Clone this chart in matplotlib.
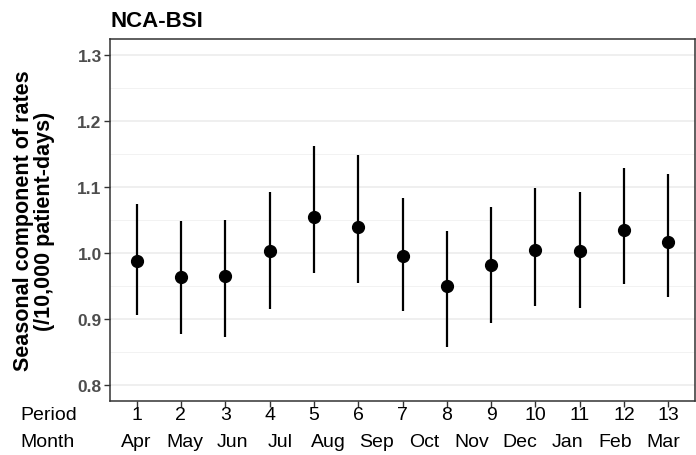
import numpy as np
import matplotlib.pyplot as plt
from matplotlib import transforms

plt.rcParams['font.family'] = ['Liberation Sans', 'DejaVu Sans']

# seasonal component per period, with interval bounds
periods = list(range(1, 14))
est = [0.987, 0.963, 0.965, 1.003, 1.054, 1.039, 0.995,
       0.949, 0.981, 1.005, 1.003, 1.035, 1.017]
lower = [0.905, 0.877, 0.872, 0.915, 0.970, 0.955, 0.911,
         0.857, 0.893, 0.919, 0.917, 0.953, 0.933]
upper = [1.075, 1.048, 1.050, 1.093, 1.162, 1.148, 1.084,
         1.033, 1.070, 1.098, 1.093, 1.129, 1.120]
months = ['Apr', 'May', 'Jun', 'Jul', 'Aug', 'Sep', 'Oct',
          'Nov', 'Dec', 'Jan', 'Feb', 'Mar']
yticks = [0.8, 0.9, 1.0, 1.1, 1.2, 1.3]

fig = plt.figure(figsize=(6.96, 4.56), dpi=100)
ax = fig.add_axes([110 / 696, 1 - 402 / 456, 585 / 696, 362 / 456])

ax.vlines(periods, lower, upper, color='black', linewidth=1.6, zorder=3)
ax.plot(periods, est, 'o', color='black', markersize=8.5, zorder=4)

ax.set_xlim(0.4, 13.6)
ax.set_ylim(0.775, 1.325)
ax.set_yticks(yticks)
ax.set_yticks([0.85, 0.95, 1.05, 1.15, 1.25], minor=True)
ax.set_yticklabels(['%.1f' % v for v in yticks],
                   fontweight='bold', color='#4d4d4d', fontsize=12.5)
ax.grid(axis='y', which='major', color='#ebebeb', linewidth=1.1)
ax.grid(axis='y', which='minor', color='#f0f0f0', linewidth=0.6)
ax.set_axisbelow(True)
ax.tick_params(axis='y', which='major', length=4, width=1, color='#333333', pad=2)
ax.tick_params(axis='y', which='minor', length=0)
ax.set_xticks(periods)
ax.set_xticklabels([])
ax.tick_params(axis='x', length=4, width=1, color='#333333')
for s in ax.spines.values():
    s.set_color('#333333')
    s.set_linewidth(1.1)

fig.text(34 / 696, 1 - 221 / 456,
         'Seasonal component of rates\n(/10,000 patient-days)',
         rotation=90, ha='center', va='center', fontweight='bold',
         fontsize=15.5, linespacing=1.0)

ax.set_title('NCA-BSI', loc='left', fontweight='bold', fontsize=16, pad=9)

# period and month rows under the axis
trans = transforms.blended_transform_factory(ax.transData, fig.transFigure)
for p in periods:
    ax.text(p, 1 - 416 / 456, str(p), transform=trans, ha='center',
            va='center', fontsize=14)
month_pos = np.linspace(1, 12.89, len(months))
for x, m in zip(month_pos, months):
    ax.text(x, 1 - 443 / 456, m, transform=trans, ha='center',
            va='center', fontsize=14)
fig.text(20 / 696, 1 - 416 / 456, 'Period', ha='left', va='center', fontsize=14)
fig.text(20 / 696, 1 - 443 / 456, 'Month', ha='left', va='center', fontsize=14)

fig.savefig('out.png', dpi=100)
